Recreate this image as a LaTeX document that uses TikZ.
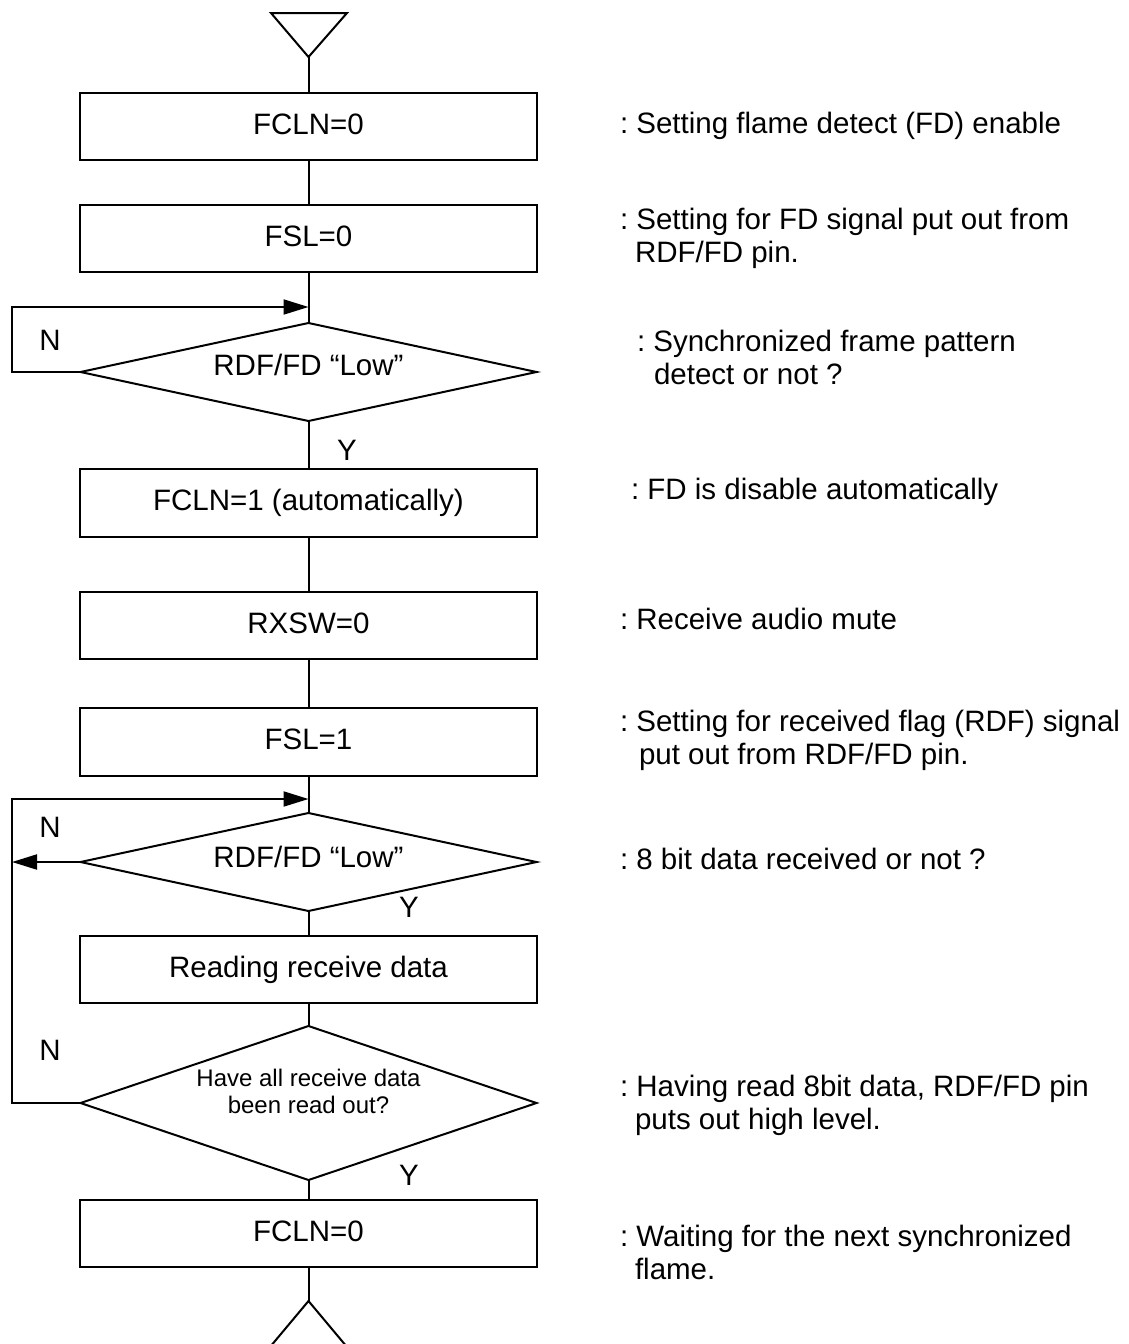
\documentclass[tikz,border=0pt]{standalone}
\usepackage{fontspec}
\setmainfont{Liberation Sans}
\usetikzlibrary{arrows.meta,shapes.geometric}
\frenchspacing
\begin{document}
\begin{tikzpicture}[x=1pt,y=-1pt,
  line width=2pt,
  font=\fontsize{29.5}{34}\selectfont,
  procbox/.style={draw,rectangle,minimum width=457pt,minimum height=67pt,inner sep=0pt,outer sep=0pt,text height=21pt,text depth=6pt},
  decbox/.style={draw,diamond,minimum width=456pt,inner sep=0pt,outer sep=0pt,aspect=4.6},
  lbl/.style={inner sep=0pt,text height=21pt,text depth=0pt},
  smalllbl/.style={inner sep=0pt,text height=17pt,text depth=0pt,font=\fontsize{24}{28}\selectfont},
  side/.style={anchor=base west,inner sep=0pt,execute at begin node=\frenchspacing},
  arr/.style={-{Triangle[length=25pt,width=15pt]}}]
\useasboundingbox (0,0) rectangle (1128,1344);
% terminals
\coordinate (tin) at (308.5,57);
\coordinate (tinl) at (271,13);
\coordinate (tinr) at (347,13);
\coordinate (tout) at (308.5,1301);
\coordinate (toutl) at (270,1347);
\coordinate (toutr) at (347,1347);
\draw[line join=miter] (tinl) -- (tinr) -- (tin) -- cycle;
\draw (toutl) -- (tout) -- (toutr);
% boxes and decisions
\node[procbox] (b1) at (308.5,126.5) {FCLN=0};
\node[procbox] (b2) at (308.5,238.5) {FSL=0};
\node[decbox,minimum height=98pt] (d1) at (308.5,372) {};
\node[lbl] (d1t) at (308.5,365) {RDF/FD “Low”};
\node[procbox,minimum height=68pt] (b3) at (308.5,503) {FCLN=1 (automatically)};
\node[procbox] (b4) at (308.5,625.5) {RXSW=0};
\node[procbox,minimum height=68pt] (b5) at (308.5,742) {FSL=1};
\node[decbox,minimum height=98pt] (d2) at (308.5,862) {};
\node[lbl] (d2t) at (308.5,857) {RDF/FD “Low”};
\node[procbox] (b6) at (308.5,969.5) {Reading receive data};
\node[decbox,minimum height=154pt,aspect=3] (d3) at (308.5,1103) {};
\node[smalllbl] (d3a) at (308.5,1078) {Have all receive data};
\node[smalllbl] (d3b) at (308.5,1105) {been read out?};
\node[procbox] (b7) at (308.5,1233.5) {FCLN=0};
% junctions
\coordinate (j1) at (308.5,307);
\coordinate (j2) at (308.5,799);
\coordinate (l1) at (12,372);
\coordinate (l2) at (12,862);
\coordinate (l3) at (12,1103);
% main flow
\draw (tin) -- (b1.north);
\draw (b1.south) -- (b2.north);
\draw (b2.south) -- (d1.north);
\draw (d1.south) -- (b3.north);
\draw (b3.south) -- (b4.north);
\draw (b4.south) -- (b5.north);
\draw (b5.south) -- (d2.north);
\draw (d2.south) -- (b6.north);
\draw (b6.south) -- (d3.north);
\draw (d3.south) -- (b7.north);
\draw (b7.south) -- (tout);
% loops
\draw[arr] (d1.west) -- (l1) |- (j1);
\draw[arr] (d2.west) -- (l2);
\draw[arr] (d3.west) -- (l3) |- (j2);
% Y / N labels
\node[lbl] (n1) at (50,340) {N};
\node[lbl] (y1) at (347,450) {Y};
\node[lbl] (n2) at (50,827) {N};
\node[lbl] (y2) at (409,907) {Y};
\node[lbl] (n3) at (50,1050) {N};
\node[lbl] (y3) at (409,1175) {Y};
% side comments
\node[side] (t1) at (619,133) {: Setting flame detect (FD) enable};
\node[side] (t2a) at (619,229) {: Setting for FD signal put out from};
\node[side] (t2b) at (634,262) {RDF/FD pin.};
\node[side] (t3a) at (636,351) {: Synchronized frame pattern};
\node[side] (t3b) at (653,384) {detect or not ?};
\node[side] (t4) at (630,499) {: FD is disable automatically};
\node[side] (t5) at (619,629) {: Receive audio mute};
\node[side] (t6a) at (619,731) {: Setting for received flag (RDF) signal};
\node[side] (t6b) at (638,764) {put out from RDF/FD pin.};
\node[side] (t7) at (619,869) {: 8 bit data received or not ?};
\node[side] (t8a) at (619,1096) {: Having read 8bit data, RDF/FD pin};
\node[side] (t8b) at (634,1129) {puts out high level.};
\node[side] (t9a) at (619,1246) {: Waiting for the next synchronized};
\node[side] (t9b) at (634,1279) {flame.};
\end{tikzpicture}
\end{document}
